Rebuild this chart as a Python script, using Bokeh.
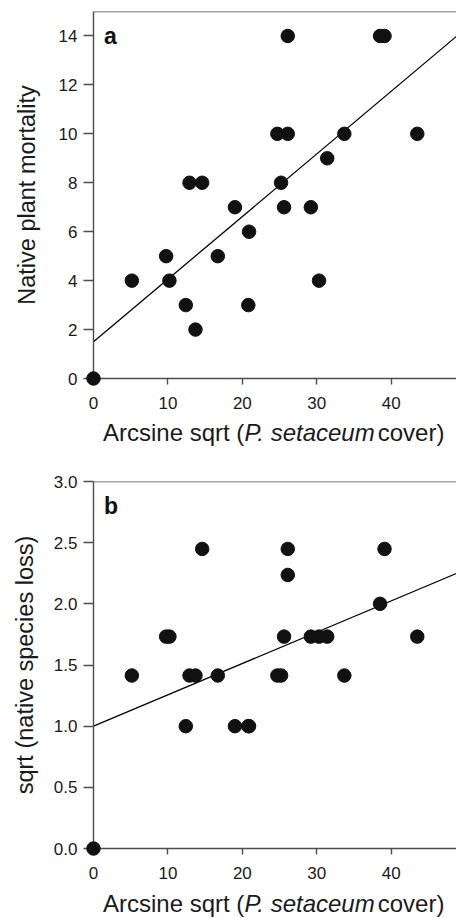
from bokeh.plotting import figure
from bokeh.layouts import column
from bokeh.models import FixedTicker, Label, Range1d, Div, Span
from bokeh.embed import file_html
from bokeh.resources import INLINE

# ---- data ----
cover = [0, 5.15, 9.76, 10.2, 12.4, 12.9, 13.7, 14.6, 16.7, 19.0, 20.8, 20.9,
         24.7, 25.2, 25.6, 26.1, 26.1, 29.2, 30.3, 31.4, 33.7, 38.5, 39.1, 43.5]
mortality = [0, 4, 5, 4, 3, 8, 2, 8, 5, 7, 3, 6,
             10, 8, 7, 14, 10, 7, 4, 9, 10, 14, 14, 10]
species_loss = [0, 1.414, 1.732, 1.732, 1.0, 1.414, 1.414, 2.449, 1.414, 1.0, 1.0, 1.0,
                1.414, 1.414, 1.732, 2.449, 2.236, 1.732, 1.732, 1.732, 1.414, 2.0, 2.449, 1.732]
fit_a = [1.5, 0.256]     # intercept, slope
fit_b = [1.0, 0.0256]
x_ticks = [0, 10, 20, 30, 40]
x_tick_labels = ["0", "10", "20", "30", "40"]
ya_ticks = [0, 2, 4, 6, 8, 10, 12, 14]
ya_tick_labels = ["0", "2", "4", "6", "8", "10", "12", "14"]
yb_ticks = [0.0, 0.5, 1.0, 1.5, 2.0, 2.5, 3.0]
yb_tick_labels = ["0.0", "0.5", "1.0", "1.5", "2.0", "2.5", "3.0"]
x_title = 'Arcsine sqrt (<i>P. setaceum</i><span style="margin-left:3px">cover)</span>'

FONT = "Liberation Sans"
AXC = "#4d4d4d"
XMAX = 48.77


def make_panel(y, fit, ymax, yticks, ylabels, ylab, letter, height, top, bottom,
               letter_y, ylab_standoff):
    p = figure(width=456, height=height, output_backend="svg", toolbar_location=None,
               x_range=Range1d(0, XMAX), y_range=Range1d(0, ymax),
               min_border_left=93, min_border_right=0,
               min_border_top=top, min_border_bottom=bottom)
    p.outline_line_color = None
    p.grid.visible = False
    p.background_fill_color = "white"
    p.border_fill_color = "white"

    for ax in (p.xaxis[0], p.yaxis[0]):
        ax.axis_line_color = AXC
        ax.axis_line_width = 1.4
        ax.major_tick_line_color = AXC
        ax.major_tick_line_width = 1.4
        ax.major_tick_in = 0
        ax.minor_tick_line_color = None
        ax.major_label_text_font = FONT
        ax.major_label_text_font_size = "17px"
        ax.major_label_text_color = "#1a1a1a"

    p.xaxis.ticker = FixedTicker(ticks=x_ticks)
    p.xaxis.major_label_overrides = {t: l for t, l in zip(x_ticks, x_tick_labels)}
    p.xaxis.major_tick_out = 6
    p.xaxis.major_label_standoff = 12

    p.yaxis.ticker = FixedTicker(ticks=yticks)
    p.yaxis.major_label_overrides = {t: l for t, l in zip(yticks, ylabels)}
    p.yaxis.major_tick_out = 10
    p.yaxis.major_label_standoff = 6
    p.yaxis.axis_label = ylab
    p.yaxis.axis_label_text_font = FONT
    p.yaxis.axis_label_text_font_style = "normal"
    p.yaxis.axis_label_text_font_size = "23.5px"
    p.yaxis.axis_label_text_color = "#1a1a1a"
    p.yaxis.axis_label_standoff = ylab_standoff

    # top frame line
    p.add_layout(Span(location=ymax, dimension="width", line_color=AXC, line_width=1.4))

    # regression line
    p.line([0, XMAX], [fit[0], fit[0] + fit[1] * XMAX], line_color="black", line_width=1.3)

    p.scatter(cover, y, size=13.5, fill_color="#111111", line_color="#111111",
              level="overlay")

    p.add_layout(Label(x=1.4, y=letter_y, text=letter, text_font=FONT,
                       text_font_style="bold", text_font_size="23px",
                       text_baseline="middle", text_color="#111111"))
    return p


def make_title(h, mtop):
    return Div(text=x_title, width=353, height=h, margin=(mtop, 0, 0, 103),
               styles={"font-family": FONT, "font-size": "24px", "line-height": "24px",
                       "color": "#1a1a1a", "white-space": "nowrap"})


pa = make_panel(mortality, fit_a, 15, ya_ticks, ya_tick_labels,
                "Native plant mortality", "a", 418, 11, 40, 14.0, 16)
ta = make_title(48, 3)
pb = make_panel(species_loss, fit_b, 3.0, yb_ticks, yb_tick_labels,
                "sqrt (native species loss)", "b", 415, 12, 36, 2.8, 13)
tb = make_title(26, 8)

layout = column(pa, ta, pb, tb, spacing=0)
open("out.html", "w").write(file_html(layout, INLINE))
